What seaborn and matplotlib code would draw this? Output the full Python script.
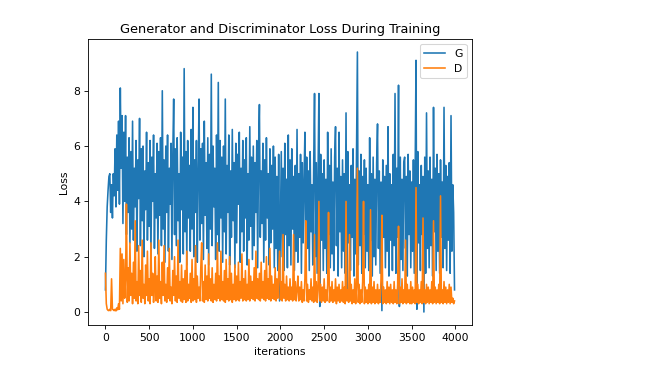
import numpy as np
import pandas as pd
import matplotlib
matplotlib.use("Agg")
import matplotlib.pyplot as plt
import seaborn as sns

# loss values, one every 10 iterations
G_losses = [
    0.8, 2.6, 3.8, 4.4, 4.9, 5.0, 3.6, 4.6, 3.4, 5.0,
    4.2, 5.9, 3.8, 6.4, 4.4, 6.9, 3.9, 8.1, 5.2, 7.1,
    3.2, 6.5, 4.0, 7.1, 2.8, 5.6, 3.6, 6.3, 2.5, 5.8,
    3.0, 6.9, 2.6, 5.2, 3.8, 6.2, 2.2, 5.5, 4.1, 7.0,
    2.4, 5.9, 3.3, 6.0, 2.0, 5.1, 3.7, 6.5, 2.6, 5.4,
    3.1, 6.2, 1.9, 5.6, 4.0, 6.4, 2.3, 5.0, 3.4, 6.1,
    2.1, 5.8, 3.5, 6.3, 2.4, 8.0, 3.0, 5.5, 1.8, 6.0,
    3.6, 6.4, 2.2, 5.2, 3.9, 6.1, 1.9, 5.7, 7.7, 2.8,
    5.9, 2.4, 6.3, 3.3, 5.0, 1.8, 6.5, 3.7, 5.6, 2.1,
    8.8, 2.9, 5.8, 1.7, 6.2, 3.4, 5.3, 2.2, 6.6, 3.0,
    7.4, 2.0, 5.5, 3.6, 6.2, 1.8, 5.0, 7.7, 2.6, 5.9,
    3.2, 6.1, 1.9, 6.9, 3.5, 5.4, 2.3, 6.3, 1.7, 5.7,
    3.0, 8.6, 2.4, 6.0, 3.8, 5.2, 1.9, 6.4, 2.8, 8.3,
    2.2, 6.2, 3.4, 5.6, 1.8, 6.0, 2.9, 7.7, 2.1, 5.3,
    3.6, 6.4, 1.7, 5.1, 2.7, 6.6, 3.3, 5.4, 1.6, 6.1,
    2.5, 5.7, 3.9, 6.5, 1.8, 5.2, 2.9, 6.2, 2.2, 5.5,
    3.4, 6.3, 1.7, 5.0, 2.6, 6.7, 3.1, 5.6, 1.9, 6.0,
    2.4, 5.4, 3.6, 6.2, 1.6, 5.8, 7.5, 2.7, 5.1, 3.2,
    6.1, 1.8, 5.5, 2.6, 6.3, 3.4, 5.0, 1.7, 5.9, 2.5,
    5.3, 3.0, 6.0, 1.6, 5.6, 2.3, 4.9, 1.5, 5.7, 0.4,
    3.1, 5.8, 2.0, 5.2, 1.5, 6.1, 2.8, 4.8, 1.6, 6.4,
    2.4, 5.5, 1.7, 5.9, 3.0, 4.9, 1.5, 5.3, 2.2, 6.6,
    1.8, 5.0, 2.7, 5.7, 1.4, 5.4, 2.5, 4.7, 6.5, 1.6,
    5.6, 2.3, 5.1, 1.5, 5.8, 2.9, 4.6, 1.7, 5.2, 7.9,
    2.0, 5.4, 1.4, 4.9, 7.9, 0.2, 5.7, 2.6, 5.0, 1.5,
    5.5, 2.3, 4.8, 1.4, 6.5, 2.8, 5.3, 1.6, 5.9, 2.1,
    4.7, 1.5, 5.6, 6.7, 2.4, 5.2, 1.3, 6.5, 2.9, 4.9,
    1.6, 5.5, 2.2, 5.0, 1.4, 7.2, 0.6, 5.8, 2.5, 4.6,
    1.5, 5.3, 2.7, 5.9, 1.3, 4.8, 2.1, 5.6, 9.4, 1.7,
    5.1, 2.4, 5.7, 1.4, 4.9, 2.8, 5.5, 1.6, 5.2, 2.2,
    4.6, 1.5, 6.3, 2.6, 5.0, 1.3, 5.6, 2.0, 4.8, 1.7,
    5.4, 6.8, 2.3, 5.1, 1.4, 4.7, 0.05, 5.5, 2.7, 4.9,
    1.6, 5.3, 2.2, 6.7, 1.3, 5.0, 2.6, 4.6, 1.5, 5.7,
    2.4, 7.9, 1.4, 5.2, 2.7, 8.2, 0.2, 5.6, 1.9, 4.8,
    1.5, 5.4, 5.6, 2.3, 4.9, 1.3, 5.7, 2.8, 5.1, 1.6,
    4.7, 2.2, 5.5, 1.4, 5.0, 9.1, 0.1, 5.8, 2.5, 4.6,
    1.5, 5.3, 2.8, 4.9, 0.0, 5.6, 1.4, 7.2, 2.3, 5.1,
    1.6, 5.6, 2.4, 4.8, 1.3, 7.4, 2.9, 5.2, 1.5, 5.7,
    2.2, 5.0, 1.4, 5.5, 2.7, 4.7, 1.6, 7.4, 2.3, 5.3,
    1.5, 4.9, 2.6, 5.4, 1.4, 7.1, 2.2, 4.6, 3.6, 0.8,
]

D_losses = [
    1.4, 0.3, 0.1, 0.06, 0.05, 0.1, 0.05, 1.2, 0.1, 0.08,
    0.05, 0.1, 0.04, 0.15, 0.08, 0.3, 0.1, 2.3, 0.4, 2.1,
    0.3, 1.9, 0.5, 1.2, 3.9, 0.35, 1.6, 0.4, 2.5, 0.6,
    1.4, 0.3, 1.8, 0.5, 3.3, 0.4, 1.1, 0.3, 2.4, 0.6,
    1.5, 0.35, 2.6, 0.5, 1.0, 0.3, 1.7, 0.6, 2.2, 0.4,
    1.2, 0.3, 2.5, 0.6, 1.4, 0.35, 0.9, 2.0, 0.4, 1.3,
    0.35, 2.6, 0.5, 1.1, 0.3, 1.8, 0.6, 2.4, 0.4, 1.0,
    0.35, 1.6, 0.5, 2.3, 0.4, 0.9, 0.3, 1.5, 0.6, 2.0,
    0.4, 1.3, 0.35, 2.6, 0.5, 1.1, 0.4, 1.7, 0.35, 1.2,
    0.45, 1.5, 0.35, 2.2, 0.4, 1.0, 0.5, 1.4, 0.35, 1.9,
    0.4, 1.2, 0.45, 2.4, 0.35, 1.3, 0.5, 0.9, 0.4, 1.6,
    2.5, 0.4, 1.1, 0.35, 1.7, 0.45, 1.3, 0.4, 2.1, 0.5,
    1.2, 0.4, 1.6, 0.35, 1.0, 0.45, 1.4, 0.4, 2.5, 0.5,
    1.3, 0.4, 2.2, 0.45, 1.1, 0.4, 1.5, 0.35, 1.9, 0.45,
    1.2, 0.4, 2.0, 0.45, 1.4, 0.35, 1.0, 0.45, 1.7, 0.4,
    1.3, 0.45, 1.8, 0.4, 1.1, 0.5, 2.1, 0.4, 1.2, 0.45,
    1.5, 0.4, 1.0, 0.45, 1.9, 0.4, 1.3, 0.5, 1.1, 0.45,
    1.6, 0.4, 2.2, 0.5, 1.2, 0.45, 1.4, 0.4, 1.8, 0.5,
    1.1, 0.45, 1.5, 0.4, 2.0, 0.5, 1.2, 0.45, 2.3, 0.4,
    1.3, 0.5, 1.0, 0.45, 1.6, 0.4, 1.2, 0.5, 1.4, 2.2,
    0.45, 1.1, 0.4, 2.8, 0.5, 1.0, 0.4, 1.3, 0.45, 0.9,
    0.4, 1.2, 0.45, 0.9, 0.4, 2.8, 0.45, 1.1, 0.4, 0.8,
    1.3, 0.4, 0.9, 0.45, 1.1, 0.35, 0.8, 0.4, 1.2, 3.3,
    0.4, 1.0, 0.35, 0.8, 0.45, 1.2, 0.4, 0.9, 0.35, 2.8,
    0.4, 1.1, 0.35, 0.8, 4.0, 0.4, 1.0, 0.35, 0.9, 0.4,
    1.2, 0.35, 0.8, 0.4, 1.0, 3.6, 0.35, 0.9, 0.4, 1.1,
    0.35, 0.8, 0.4, 1.2, 0.3, 0.9, 0.4, 1.0, 0.35, 0.8,
    0.4, 1.1, 0.35, 0.9, 0.3, 4.0, 0.4, 0.8, 0.35, 2.8,
    0.4, 1.0, 0.3, 0.8, 0.35, 1.2, 0.3, 0.9, 5.2, 0.35,
    1.0, 0.3, 0.8, 0.35, 1.1, 4.0, 0.3, 0.9, 0.35, 0.8,
    0.3, 1.0, 0.35, 3.7, 0.3, 0.9, 0.35, 1.1, 0.3, 0.8,
    0.35, 1.0, 0.3, 0.8, 0.35, 1.2, 3.5, 0.3, 0.9, 0.35,
    0.8, 0.3, 1.1, 0.35, 0.9, 0.3, 1.0, 0.35, 0.8, 0.3,
    1.1, 0.35, 0.8, 0.3, 1.0, 3.1, 0.3, 0.9, 0.35, 1.2,
    0.3, 0.8, 0.35, 2.6, 0.3, 1.0, 0.35, 0.8, 0.3, 1.1,
    0.3, 0.9, 0.35, 0.8, 0.3, 4.5, 0.35, 1.0, 0.3, 0.8,
    0.35, 1.1, 0.3, 3.4, 0.35, 0.8, 0.3, 1.0, 0.35, 0.9,
    0.3, 0.8, 0.35, 1.1, 0.3, 3.3, 0.35, 0.9, 0.3, 0.8,
    0.35, 1.0, 0.3, 4.2, 0.35, 0.8, 0.3, 1.1, 0.35, 0.9,
    0.3, 0.8, 0.35, 1.0, 0.3, 0.9, 0.35, 0.5, 0.3, 0.4,
]

iterations = list(range(0, 10 * len(G_losses), 10))

df = pd.DataFrame({"iterations": iterations, "G": G_losses, "D": D_losses})

# the reference looks like a default matplotlib figure shrunk down, so render at a lower dpi
fig = plt.figure(figsize=(664 / 77, 367 / 77), dpi=77)
ax = fig.add_axes([0.1325, 0.1144, 0.5783, 0.7793])

sns.lineplot(data=df, x="iterations", y="G", label="G", color="C0", linewidth=1.5, ax=ax)
sns.lineplot(data=df, x="iterations", y="D", label="D", color="C1", linewidth=1.5, ax=ax)

ax.set_title("Generator and Discriminator Loss During Training")
ax.set_xlabel("iterations")
ax.set_ylabel("Loss")
ax.legend(loc="upper right")

fig.savefig("out.png", dpi=77)
